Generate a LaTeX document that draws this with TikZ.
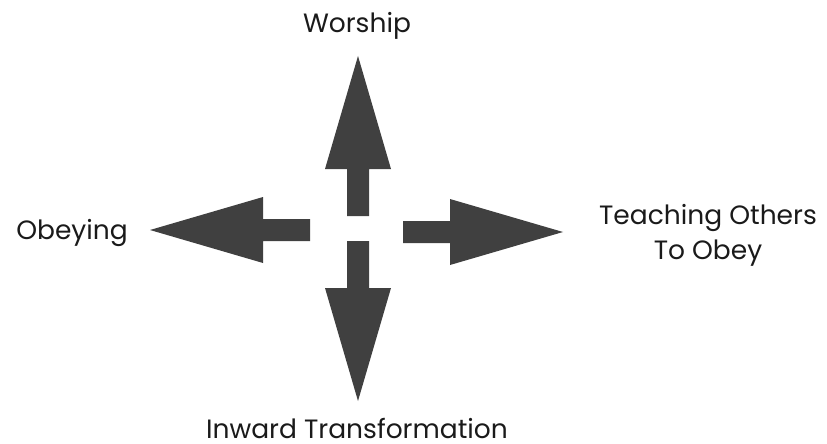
\documentclass[tikz,border=0pt]{standalone}
\usepackage{fontspec}
\setmainfont{Poppins}
\usepackage{tikz}
\definecolor{arrowgrey}{RGB}{64,64,64}
\definecolor{labelblack}{RGB}{26,26,26}
\tikzset{
    %Define style for the block arrows
    blockarrow/.style={
           fill=arrowgrey,
           draw=none},
    %Define style for the labels
    label text/.style={
           text=labelblack,
           font=\fontsize{26.5}{35}\selectfont,
           inner sep=0pt,
           anchor=base,
           align=center}
}
\begin{document}
\begin{tikzpicture}[x=1pt,y=-1pt]
  \useasboundingbox (0,0) rectangle (827,444);
  % the four arrows, start point / direction
  \foreach \cx/\cy/\ang in {358/216/90, 310/230/180, 358/241/270, 403/232/0}{
    \fill[blockarrow, shift={(\cx,\cy)}, rotate=\ang]
      (0,-11) -- (47,-11) -- (47,-33) -- (160,0) -- (47,33) -- (47,11) -- (0,11) -- cycle;
  }
  \node[label text] (worship) at (357,33) {Worship};
  \node[label text] (obeying) at (72,239) {Obeying};
  \node[label text] (teaching) at (708,259) {Teaching Others\\To Obey};
  \node[label text] (inward) at (357,438) {Inward Transformation};
\end{tikzpicture}
\end{document}
